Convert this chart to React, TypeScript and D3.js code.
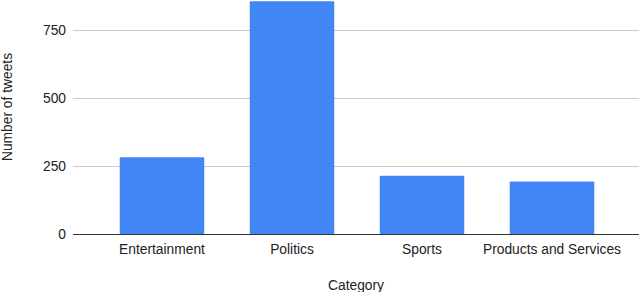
import React from "react";
import * as d3 from "d3";

const categories = ["Entertainment", "Politics", "Sports", "Products and Services"];
const tweetCounts = [282, 856, 214, 193];
const yTicks = [0, 250, 500, 750];
const xTitle = "Category";
const yTitle = "Number of tweets";

const W = 640;
const H = 292;
const font = "'Liberation Sans', Arial, sans-serif";

export default function App() {
  const x = d3.scaleBand<string>().domain(categories).range([97, 617]).paddingInner(0.35).paddingOuter(0.175);
  const y = d3.scaleLinear().domain([0, 750]).range([234, 30]);
  const plotLeft = 73;
  const plotRight = 639;
  return (
    <svg width={W} height={H} style={{ position: "absolute", left: 0, top: 0, background: "#fff" }}>
      {yTicks.map((t) => (
        <g key={t}>
          {t !== 0 && (
            <line x1={plotLeft} x2={plotRight} y1={Math.round(y(t)) + 0.5} y2={Math.round(y(t)) + 0.5} stroke="#cccccc" strokeWidth={1} />
          )}
          <text x={66} y={y(t)} dy="0.35em" textAnchor="end" fontFamily={font} fontSize={13.8} fill="#222">
            {t}
          </text>
        </g>
      ))}
      {categories.map((c, i) => (
        <rect
          key={c}
          x={x(c)}
          y={y(tweetCounts[i])}
          width={x.bandwidth()}
          height={y(0) - y(tweetCounts[i])}
          fill="#4285f4"
          rx={1}
        />
      ))}
      <line x1={plotLeft} x2={plotRight} y1={Math.round(y(0)) + 0.5} y2={Math.round(y(0)) + 0.5} stroke="#333" strokeWidth={1} />
      {categories.map((c) => (
        <text key={c} x={(x(c) as number) + x.bandwidth() / 2} y={254} textAnchor="middle" fontFamily={font} fontSize={13.8} fill="#222">
          {c}
        </text>
      ))}
      <text x={(plotLeft + plotRight) / 2} y={290} textAnchor="middle" fontFamily={font} fontSize={13.8} fill="#222">
        {xTitle}
      </text>
      <text transform={`translate(12,107) rotate(-90)`} textAnchor="middle" fontFamily={font} fontSize={13.8} fill="#222">
        {yTitle}
      </text>
    </svg>
  );
}
